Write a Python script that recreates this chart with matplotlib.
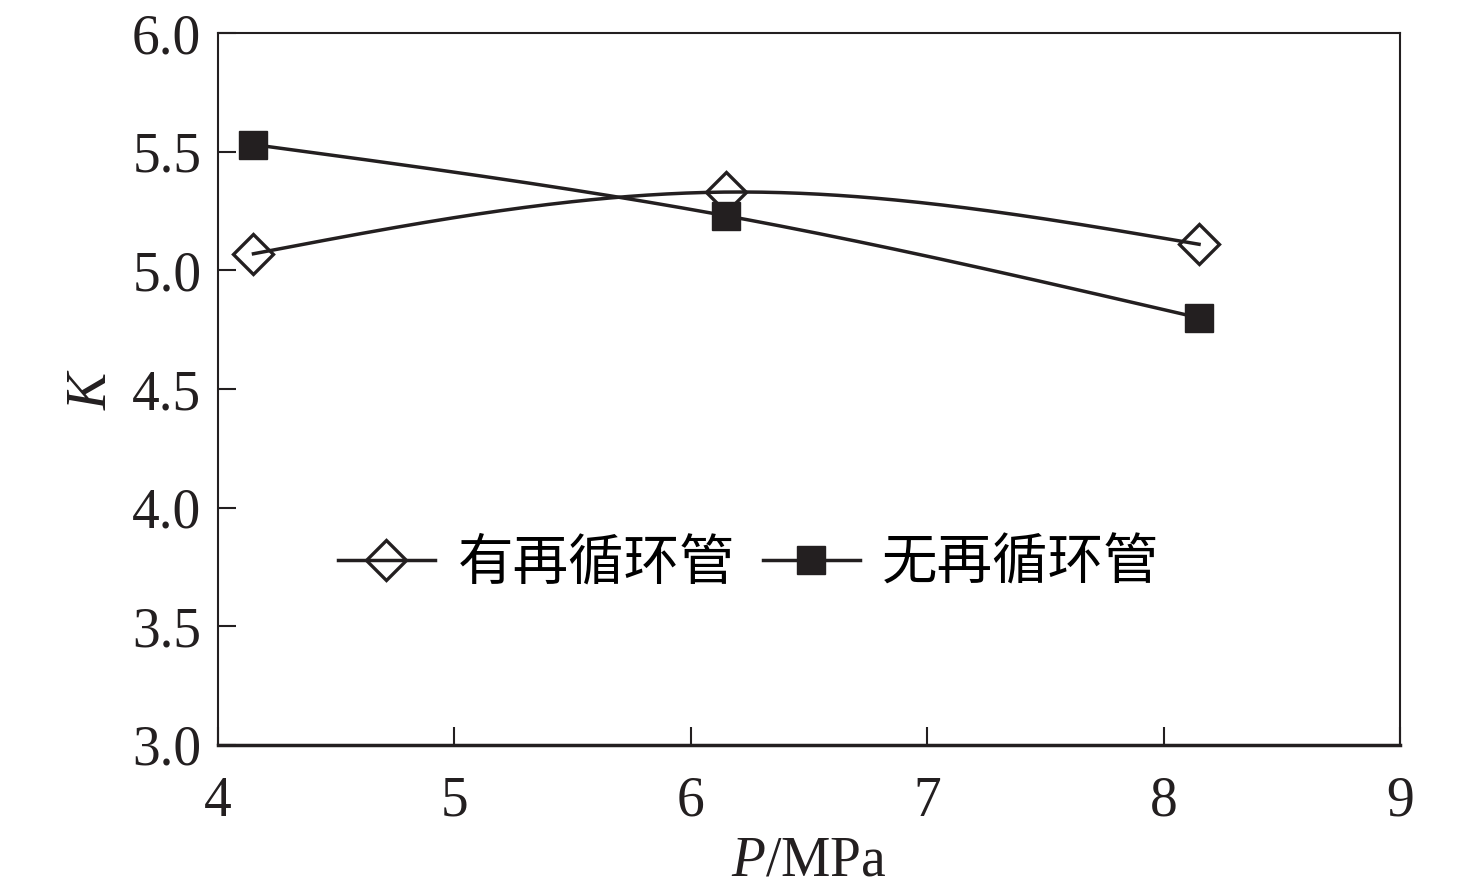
import numpy as np
import matplotlib
matplotlib.use('Agg')
import matplotlib.pyplot as plt

plt.rcParams['font.family'] = ['Liberation Serif', 'Noto Sans CJK SC']
plt.rcParams['mathtext.fontset'] = 'custom'
plt.rcParams['mathtext.it'] = 'Liberation Serif:italic'
plt.rcParams['mathtext.rm'] = 'Liberation Serif'

P = [4.15, 6.15, 8.15]
k_with = [5.07, 5.33, 5.11]
k_without = [5.53, 5.23, 4.80]
labels = ['有再循环管', '无再循环管']


def natural_spline(x, y, n=200):
    # natural cubic spline through the points, for a smooth line
    x = np.asarray(x, float)
    y = np.asarray(y, float)
    m = len(x)
    h = np.diff(x)
    A = np.zeros((m, m))
    r = np.zeros(m)
    A[0, 0] = A[-1, -1] = 1
    for i in range(1, m - 1):
        A[i, i - 1] = h[i - 1]
        A[i, i] = 2 * (h[i - 1] + h[i])
        A[i, i + 1] = h[i]
        r[i] = 6 * ((y[i + 1] - y[i]) / h[i] - (y[i] - y[i - 1]) / h[i - 1])
    M = np.linalg.solve(A, r)
    xs = np.linspace(x[0], x[-1], n)
    ys = np.empty_like(xs)
    for j, xv in enumerate(xs):
        i = min(np.searchsorted(x, xv, side='right') - 1, m - 2)
        a, b = x[i], x[i + 1]
        hi = b - a
        ys[j] = (M[i] * (b - xv) ** 3 / (6 * hi) + M[i + 1] * (xv - a) ** 3 / (6 * hi)
                 + (y[i] / hi - M[i] * hi / 6) * (b - xv)
                 + (y[i + 1] / hi - M[i + 1] * hi / 6) * (xv - a))
    return xs, ys


fig = plt.figure(figsize=(14.76, 8.94), dpi=100)
ax = fig.add_axes([0.1477, 0.1667, 0.8008, 0.7963])

c = '#231f20'
lw = 2.5
xs, ys = natural_spline(P, k_with)
ax.plot(xs, ys, color=c, lw=lw)
xs, ys = natural_spline(P, k_without)
ax.plot(xs, ys, color=c, lw=lw)
ax.plot(P, k_with, ls='none', marker='D', ms=20, mfc='none', mec=c, mew=2.4)
ax.plot(P, k_without, ls='none', marker='s', ms=20, mfc=c, mec=c)

# legend proxies
h1, = ax.plot([], [], color=c, lw=lw, marker='D', ms=20, mfc='none', mec=c, mew=2.4)
h2, = ax.plot([], [], color=c, lw=lw, marker='s', ms=20, mfc=c, mec=c)
ax.legend([h1, h2], labels, ncol=2, frameon=False, loc='center',
          bbox_to_anchor=(0.449, 0.255), prop={'family': 'Noto Sans CJK SC', 'size': 40},
          handlelength=1.75, handletextpad=0.4, columnspacing=0.5, borderpad=0)

ax.set_xlim(4, 9)
ax.set_ylim(3.0, 6.0)
ax.set_xticks([4, 5, 6, 7, 8, 9])
ax.set_yticks(np.arange(3.0, 6.01, 0.5))
ax.set_yticklabels(['%.1f' % v for v in np.arange(3.0, 6.01, 0.5)])
ax.tick_params(direction='in', length=13, width=1.5, labelsize=40,
               top=False, right=False, colors=c)
ax.tick_params(axis='x', pad=22)
ax.tick_params(axis='y', pad=12)
for s in ['left', 'right', 'top']:
    ax.spines[s].set_linewidth(1.5)
    ax.spines[s].set_color(c)
ax.spines['bottom'].set_linewidth(2.5)
ax.spines['bottom'].set_color(c)

ax.set_xlabel('$P$/MPa', fontsize=40, color=c, labelpad=6)
ax.set_ylabel('$K$', fontsize=40, color=c, labelpad=10)

fig.savefig('out.png', dpi=100)
